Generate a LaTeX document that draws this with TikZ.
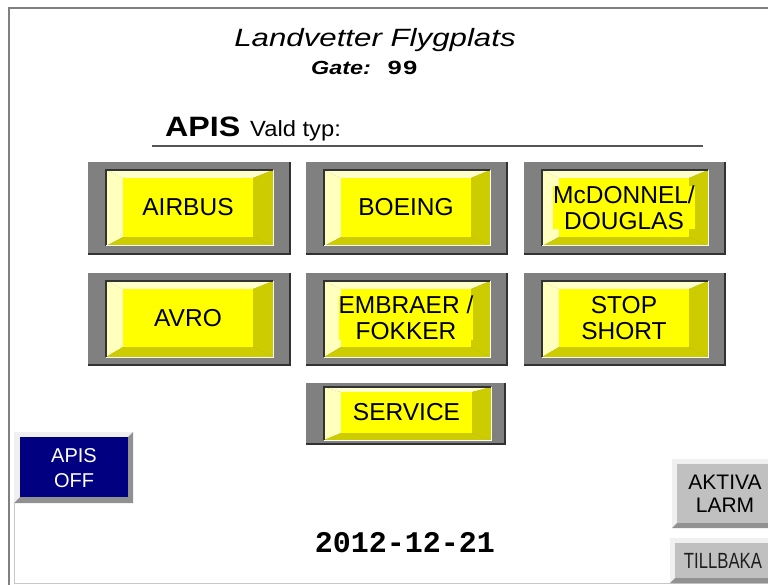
\documentclass[tikz,border=0pt]{standalone}
\usepackage{fontspec}
\setmainfont{Liberation Sans}
\newfontfamily\monofont{Liberation Mono}
\usetikzlibrary{calc}
\definecolor{btngray}{RGB}{128,128,128}
\definecolor{btnshadow}{RGB}{50,50,50}
\definecolor{paletop}{RGB}{255,255,204}
\definecolor{paleleft}{RGB}{255,255,190}
\definecolor{olivey}{RGB}{204,204,0}
\definecolor{facey}{RGB}{255,255,0}
\definecolor{navyb}{RGB}{0,0,128}
\definecolor{bevlight}{RGB}{240,240,240}
\definecolor{bevdark}{RGB}{145,145,145}
\definecolor{facegray}{RGB}{192,192,192}
\definecolor{framegray}{RGB}{128,128,128}
\definecolor{framelight}{RGB}{200,200,200}
\definecolor{rulegray}{RGB}{85,85,85}

\tikzset{
  ylabel/.style={font=\fontsize{24.5}{26}\selectfont, align=center, fill=facey, inner sep=0pt, text=black},
  glabel/.style={font=\fontsize{21}{23.5}\selectfont, align=center, inner sep=0pt, text=black},
}

% yellow bevel button: outer corners, yellow rect corners, face corners, name, label
\newcommand\ybtn[8]{%
  \coordinate (O0) at #1; \coordinate (O1) at #2;
  \coordinate (Y0) at #3; \coordinate (Y1) at #4;
  \coordinate (F0) at #5; \coordinate (F1) at #6;
  \fill[btngray] (O0) rectangle (O1);
  \draw[btnshadow, line width=1.5pt] (O0 |- O1) -- (O1) -- (O1 |- O0);
  \fill[paletop] (Y0) -- (Y0 -| Y1) -- (F0 -| F1) -- (F0) -- cycle;
  \fill[paleleft] (Y0) -- (F0) -- (F0 |- F1) -- (Y0 |- Y1) -- cycle;
  \fill[olivey] (Y0 -| Y1) -- (Y1) -- (F1) -- (F0 -| F1) -- cycle;
  \fill[olivey] (Y0 |- Y1) -- (F0 |- F1) -- (F1) -- (Y1) -- cycle;
  \fill[facey] (F0) rectangle (F1);
  \draw[btnshadow, line width=1.2pt] (Y0 |- Y1) -- (Y0) -- (Y0 -| Y1);
  \draw[white, line width=1pt] (Y0 -| Y1) -- (Y1) -- (Y0 |- Y1);
  \node[ylabel] (#7) at ($(F0)!0.5!(F1)$) {#8};
}

% grey/blue bevel button: outer corners, face corners, face colour
\newcommand\bevbtn[5]{%
  \coordinate (O0) at #1; \coordinate (O1) at #2;
  \coordinate (F0) at #3; \coordinate (F1) at #4;
  \fill[bevlight] (O0) -- (O0 -| O1) -- (F0 -| F1) -- (F0) -- (F0 |- F1) -- (O0 |- O1) -- cycle;
  \fill[bevdark] (O1) -- (O1 |- O0) -- (F1 |- F0) -- (F1) -- (F1 -| F0) -- (O1 -| O0) -- cycle;
  \fill[#5] (F0) rectangle (F1);
}

\begin{document}
\begin{tikzpicture}[x=1pt,y=-1pt]
\useasboundingbox (0,0) rectangle (768,585);
\clip (0,0) rectangle (768,585);
\fill[white] (0,0) rectangle (768,585);

% frame
\draw[framegray, line width=2.5pt] (9,590) -- (9,8) -- (780,8);
\draw[framelight, line width=1pt] (14.5,503) -- (14.5,583) -- (780,583);

% header
\node[anchor=base, font=\fontsize{25}{25}\selectfont\itshape, inner sep=0pt] (title) at (375,47) {\scalebox{1.25}[1]{Landvetter Flygplats}};
\node[anchor=base west, font=\fontsize{19}{19}\selectfont\bfseries\itshape, inner sep=0pt] (gate) at (311,75) {\scalebox{1.23}[1]{Gate:}};
\node[anchor=base west, font=\monofont\bfseries\fontsize{20}{20}\selectfont, inner sep=0pt] (gatenum) at (387,75) {\scalebox{1.28}[1]{99}};
\node[anchor=base west, font=\fontsize{28}{28}\selectfont\bfseries, inner sep=0pt] (apis) at (165,137) {\scalebox{1.15}[1]{APIS}};
\node[anchor=base west, font=\fontsize{22}{22}\selectfont, inner sep=0pt] (vald) at (250,137) {\scalebox{1.08}[1]{Vald typ:}};
\draw[rulegray, line width=2pt] (152,146) -- (703,146);

% yellow buttons, row 1
\ybtn{(88,162)}{(290,254)}{(106,170)}{(273,246)}{(123,178)}{(253,237)}{airbus}{AIRBUS}
\ybtn{(306,162)}{(507,254)}{(324,170)}{(490,246)}{(341,178)}{(471,237)}{boeing}{BOEING}
\ybtn{(524,162)}{(725,254)}{(542,170)}{(708,246)}{(559,178)}{(689,237)}{mcd}{McDONNEL/\\DOUGLAS}
% row 2
\ybtn{(88,273)}{(290,365)}{(106,281)}{(273,357)}{(123,289)}{(253,347)}{avro}{AVRO}
\ybtn{(306,273)}{(507,365)}{(324,281)}{(490,357)}{(341,289)}{(471,347)}{embraer}{EMBRAER /\\FOKKER}
\ybtn{(524,273)}{(725,365)}{(542,281)}{(708,357)}{(559,289)}{(689,347)}{stop}{STOP\\SHORT}
% row 3
\ybtn{(306,383)}{(505,444)}{(324,387)}{(491,440)}{(341,392)}{(472,433)}{service}{SERVICE}

% APIS OFF
\bevbtn{(14,432)}{(133,503)}{(20,437)}{(128,497)}{navyb}
\node[glabel, font=\fontsize{20}{25}\selectfont, text=white] (apisoff) at (74,468) {APIS\\OFF};

% AKTIVA LARM
\bevbtn{(672,459)}{(780,528)}{(677,464)}{(775,523)}{facegray}
\node[glabel] (larm) at (725,494) {AKTIVA\\LARM};

% TILLBAKA
\bevbtn{(670,538)}{(780,583)}{(675,543)}{(775,578)}{facegray}
\node[anchor=base, font=\fontsize{22}{22}\selectfont, inner sep=0pt, text={rgb,255:red,30;green,30;blue,30}] (back) at (723,568) {\scalebox{0.76}[1]{TILLBAKA}};

% date
\node[anchor=base, font=\monofont\bfseries\fontsize{30}{30}\selectfont, inner sep=0pt] (date) at (405,552) {2012-12-21};
\end{tikzpicture}
\end{document}
